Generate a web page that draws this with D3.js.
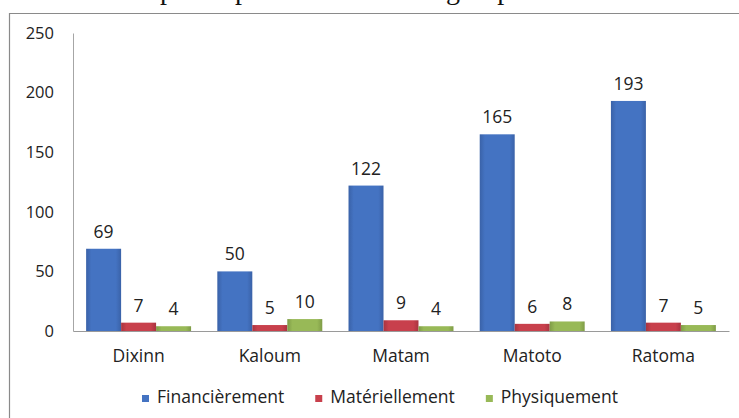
<!DOCTYPE html>
<html>
<head>
<meta charset="utf-8">
<script src="https://cdn.jsdelivr.net/npm/d3@7"></script>
<style>
  html, body { margin: 0; padding: 0; background: #fff; }
  svg { display: block; }
</style>
</head>
<body>
<svg id="chart" width="739" height="418"></svg>
<script>
// Communes, support types and counts
const communes = ["Dixinn", "Kaloum", "Matam", "Matoto", "Ratoma"];
const seriesNames = ["Financièrement", "Matériellement", "Physiquement"];
const financierement = [69, 50, 122, 165, 193];
const materiellement = [7, 5, 9, 6, 7];
const physiquement = [4, 10, 4, 8, 5];
const yTicks = [0, 50, 100, 150, 200, 250];

const seriesValues = [financierement, materiellement, physiquement];
const colors = ["#4473c2", "#c8404c", "#98b957"];
const edgeColors = ["#3a62a8", "#a83440", "#7f9c47"];

const svg = d3.select("#chart");
const font = "'Open Sans', sans-serif";

// Title line (sits above the frame, only its lowest strokes fall in view)
const title = svg.append("text")
  .attr("y", -1)
  .attr("font-family", "'Liberation Serif', 'Times New Roman', serif")
  .attr("font-size", 28)
  .attr("fill", "#111");
const segA = title.append("tspan").text("Le profil");
title.append("tspan").attr("x", 235).text("par commune et");
title.append("tspan").attr("x", 446).text("groupe");
// place the first segment so that the "p" of "profil" sits at x = 153
const leadW = svg.append("text")
  .attr("font-family", "'Liberation Serif', 'Times New Roman', serif")
  .attr("font-size", 28).text("Le ");
const lw = leadW.node().getComputedTextLength();
leadW.remove();
segA.attr("x", 153 - lw);

// Chart frame
svg.append("path")
  .attr("d", "M9.5,418 L9.5,13.5 L739,13.5")
  .attr("fill", "none")
  .attr("stroke", "#8a8a8a")
  .attr("stroke-width", 1.2);

// Scales
const x0 = d3.scaleBand().domain(communes).range([73, 729]).paddingInner(0.2).paddingOuter(0.1);
const x1 = d3.scaleBand().domain(seriesNames).range([0, x0.bandwidth()]);
const y = d3.scaleLinear().domain([0, 250]).range([331, 33]);

// Bar shading
const defs = svg.append("defs");
colors.forEach((c, i) => {
  const g = defs.append("linearGradient").attr("id", "grad" + i)
    .attr("x1", "0%").attr("x2", "100%").attr("y1", "0%").attr("y2", "0%");
  g.append("stop").attr("offset", "0%").attr("stop-color", edgeColors[i]);
  g.append("stop").attr("offset", "15%").attr("stop-color", c);
  g.append("stop").attr("offset", "85%").attr("stop-color", c);
  g.append("stop").attr("offset", "100%").attr("stop-color", edgeColors[i]);
});

// Y axis
const yAxis = svg.append("g")
  .attr("transform", "translate(73,0)")
  .call(d3.axisLeft(y).tickValues(yTicks).tickSize(0).tickPadding(19));
yAxis.select(".domain").attr("stroke", "#a6a6a6");
yAxis.selectAll("text")
  .attr("font-family", font).attr("font-size", 16.5).attr("fill", "#222");

// Bars
const groups = svg.append("g").selectAll("g")
  .data(communes)
  .join("g")
  .attr("transform", d => `translate(${x0(d)},0)`);

groups.selectAll("rect")
  .data((d, ci) => seriesNames.map((s, si) => ({ s, si, v: seriesValues[si][ci] })))
  .join("rect")
  .attr("x", d => x1(d.s))
  .attr("width", x1.bandwidth())
  .attr("y", d => y(d.v))
  .attr("height", d => y(0) - y(d.v))
  .attr("fill", d => `url(#grad${d.si})`);

// Value labels
groups.selectAll("text")
  .data((d, ci) => seriesNames.map((s, si) => ({ s, si, v: seriesValues[si][ci] })))
  .join("text")
  .attr("x", d => x1(d.s) + x1.bandwidth() / 2)
  .attr("y", d => y(d.v) - 11)
  .attr("text-anchor", "middle")
  .attr("font-family", font)
  .attr("font-size", 17.5)
  .attr("fill", "#222")
  .text(d => d.v);

// X axis
const xAxis = svg.append("g")
  .attr("transform", "translate(0,331)")
  .call(d3.axisBottom(x0).tickSize(0).tickPadding(19).tickSizeOuter(0));
xAxis.select(".domain").attr("stroke", "#9a9a9a");
xAxis.selectAll("text")
  .attr("font-family", font).attr("font-size", 17.5).attr("fill", "#222");

// Legend
const legend = svg.append("g");
let lx = 142;
seriesNames.forEach((name, i) => {
  legend.append("rect")
    .attr("x", lx).attr("y", 395).attr("width", 7).attr("height", 7)
    .attr("fill", colors[i]);
  const t = legend.append("text")
    .attr("x", lx + 15).attr("y", 403)
    .attr("font-family", font).attr("font-size", 17.5).attr("fill", "#222")
    .text(name);
  lx += 15 + t.node().getComputedTextLength() + 31;
});
</script>
</body>
</html>
